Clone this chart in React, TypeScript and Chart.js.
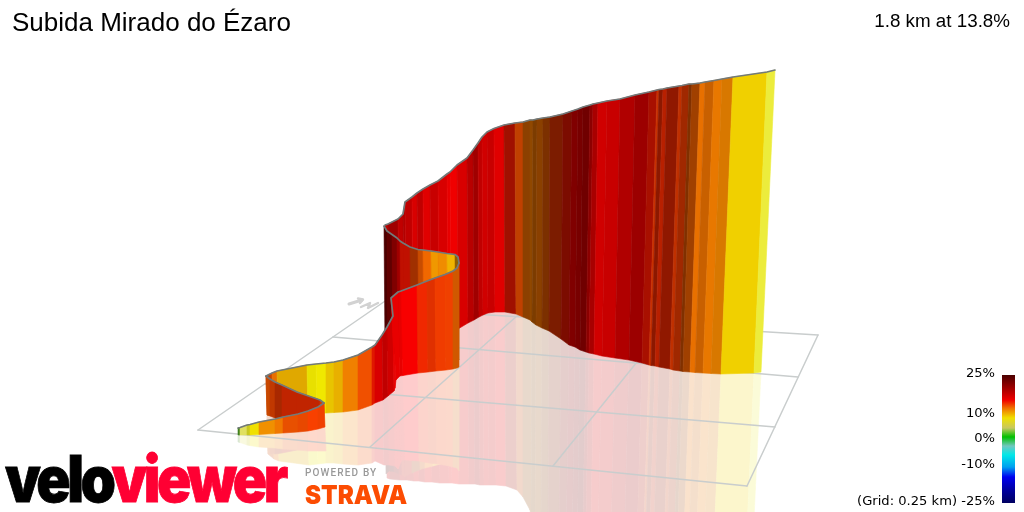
import React, { useEffect, useRef } from "react";
import { Chart, registerables } from "chart.js";

Chart.register(...registerables);

// Far wall (last part of the climb), read left to right
const farTopX = [385,388,398,403,405,412,417,423,430,438,447,450,457,467,473,478,482,487,494,504,515,523,530,533,537,543,550,563,572,578,583,590,593,598,607,620,635,649,657,659,663,667,679,682,689,692,700,705,714,722,733,767,775];
const farTopY = [225,224,219,214,202,197,193,189,185,181,174,172,165,158,150,143,137,132,128.5,125,123,122,120,120,119,118,117,114,111,109,107,105,104,103,101,99,95,92,90,89.5,89,88,86,85.5,84,84,83,82,80.5,79,77,72,70];
const farBaseX = [386,389,399,404,406,413,418,424,431,439,448,451,458,468,474,479,483,488,495,505,516,523,530,532,536,542,549,561,569,575,580,586,589,594,602,615,629,642,649,651,655,659,670,673,680,683,690,695,703,711,721,754,761];
const farBaseY = [350,349,346,345,344,342,341,339,337,335,332,331,329,323,320,317,315,313,312,312,314,317,320,322,325,328,331,339,345,347,350,352,353,354,356,358,360,363,365,365.5,366,367,369,370,371,371.5,372,372.5,373,373.5,374,373,372];
const farMirrorY = [478,479,480,480,480,481,481,482,482,483,483,483,484,484,484,485,485,485,485,486,490,497,510,517,524,528,532,545,560,565,570,574,576,580,585,590,600,610,620,622,624,626,630,632,634,636,640,644,648,652,660,664,665];
const farColours = ["#c00000","#a00000","#c00000","#b00000","#c00000","#d80000","#c00000","#e00000","#c80000","#d80000","#e80000","#f00000","#d80000","#b80000","#a00000","#c00000","#d00000","#c80000","#e00000","#a01000","#c04000","#8c4000","#904800","#7c3c00","#8a4000","#7c3000","#7c1c00","#7c0c00","#800000","#780000","#700000","#8c0000","#a80000","#d00000","#c80000","#b00000","#9c0000","#a81000","#c83000","#8c1800","#b82000","#901800","#c03000","#a02800","#803000","#a04000","#e87000","#c86000","#e87800","#d87800","#f0d000","#ecec3c"];

// Inner face behind the upper hairpin
const backTopX = [384,387,392,397,400,403,410,418,423,431,438,447,455,458,459];
const backTopY = [226,231,234.5,238,241,243,247,249.5,250,251,252,253.5,254.5,257,263];
const backBaseX = [385,388,393,398,401,404,411,419,424,432,439,448,456,458,459];
const backBaseY = [350,351,353,356,358,360,360,359.5,359,358.5,358,357,357,358,360];
const backColours = ["#4c0000","#600000","#800000","#a00000","#c01000","#c01000","#a03000","#c84c00","#f06800","#f09800","#f08c00","#f0b400","#906000","#906000"];

// Middle wall, between the two hairpins
const midTopX = [266,272,277,307,316,326,334,343,358,372,375,382,387,393,392,391,398,401,417,427,435,445,453,457,459];
const midTopY = [376,373,371,365,364,363,362,360,355,347,345,335,327,316,307,298,292,291,285,281,278,274.5,271,268,263];
const midBaseX = [267,273,278,308,317,326,334,343,358,372,375,383,388,394,395,396,400,403,418,428,436,446,453,457,459];
const midBaseY = [415,416,416,415,414,413,412.5,412,410,405,403,400,396,391,388,380,376,375.5,373,372,371,370,369,368,367];
const midColours = ["#c84400","#e87000","#e0a800","#e8e000","#f0e800","#e8c400","#e8b000","#f08000","#f05000","#e01800","#d80000","#c00000","#d00000","#e80000","#e80000","#e80000","#e80000","#f80000","#f02800","#e03000","#f03c00","#f04000","#d05800","#d05800"];

// Inner face behind the lower hairpin
const lowBackTopX = [266,270,275,282,297,320,324];
const lowBackTopY = [376,379,382,385,392,400,403];
const lowBackBaseX = [267,270,275,282,297,320,324];
const lowBackBaseY = [415,416,418,419,421,424,426];
const lowBackColours = ["#c84800","#c03800","#a82800","#c02400","#c02400","#d03c00"];

// First metres of the climb
const startTopX = [238,240,247,250,259,275,283,298,308,318,324];
const startTopY = [428,427.5,425,424.5,422,419,417,414,411,407,403];
const startBaseX = [238,240,247,250,259,275,283,298,308,318,325];
const startBaseY = [435,435,435,435,434.5,433.5,433,432,431,429,427];
const startColours = ["#408020","#e0e060","#c8c820","#f0e000","#f09000","#f07800","#e85000","#e84800","#f84000","#f04000"];

// Ground grid (0.25 km squares): [x0, y0, x1, y1]
const gridLines = [
  [198, 430, 420, 277],
  [370, 447, 518, 315],
  [553, 466, 637, 362],
  [747, 486, 818, 335],
  [198, 430, 747, 486],
  [265, 384, 775, 427],
  [333, 337, 798, 377],
  [440, 312, 818, 335],
];
const northArrow = [
  [[349, 304], [362, 300]],
  [[358, 298.5], [363, 299.5], [360, 303]],
  [[361, 307], [370, 303], [368, 308], [378, 303]],
];

// Colour scale
const legendBar = [[1002, 375], [1015, 375], [1015, 503], [1002, 503]];
const legendStops: [number, string][] = [
  [0, "#4a0000"], [0.14, "#c00000"], [0.195, "#f00000"], [0.258, "#f07000"],
  [0.336, "#f0e000"], [0.414, "#c8c860"], [0.484, "#00c000"], [0.555, "#70c8c0"],
  [0.625, "#00e8e8"], [0.719, "#00a0f0"], [0.797, "#0000f0"], [0.898, "#0000a0"], [1, "#000060"],
];
const legendLabels: [string, number][] = [["25%", 373], ["10%", 413], ["0%", 438], ["-10%", 464], ["(Grid: 0.25 km) -25%", 501]];

const pale = (hex: string) => {
  const n = parseInt(hex.slice(1), 16);
  const mix = (c: number) => Math.round(c * 0.2 + 255 * 0.8);
  return `rgb(${mix((n >> 16) & 255)},${mix((n >> 8) & 255)},${mix(n & 255)})`;
};

type Wall = { topX: number[]; topY: number[]; baseX: number[]; baseY: number[]; colours: string[]; mirrorY?: number[] };
const far: Wall = { topX: farTopX, topY: farTopY, baseX: farBaseX, baseY: farBaseY, colours: farColours, mirrorY: farMirrorY };
const back: Wall = { topX: backTopX, topY: backTopY, baseX: backBaseX, baseY: backBaseY, colours: backColours };
const mid: Wall = { topX: midTopX, topY: midTopY, baseX: midBaseX, baseY: midBaseY, colours: midColours };
const lowBack: Wall = { topX: lowBackTopX, topY: lowBackTopY, baseX: lowBackBaseX, baseY: lowBackBaseY, colours: lowBackColours };
const start: Wall = { topX: startTopX, topY: startTopY, baseX: startBaseX, baseY: startBaseY, colours: startColours };
const walls = [far, back, mid, lowBack, start];

const polygon = (data: { x: number; y: number }[], fillColour: string, extra: object = {}) => ({
  data, polygon: true, fillColour, borderWidth: 0, showLine: false, pointRadius: 0, ...extra,
});
const path = (data: { x: number; y: number }[], colour: string, width: number) => ({
  data, showLine: true, borderColor: colour, borderWidth: width, pointRadius: 0, tension: 0,
  borderCapStyle: "round", borderJoinStyle: "round", fill: false,
});

const reflectionSets = (w: Wall) =>
  w.colours.map((c, i) => {
    const mirror = (j: number) => ({
      x: 2 * w.baseX[j] - w.topX[j],
      y: w.mirrorY ? w.mirrorY[j] : 2 * w.baseY[j] - w.topY[j],
    });
    return polygon(
      [{ x: w.baseX[i], y: w.baseY[i] }, { x: w.baseX[i + 1], y: w.baseY[i + 1] }, mirror(i + 1), mirror(i)],
      pale(c),
    );
  });

const wallSets = (w: Wall) => [
  ...w.colours.map((c, i) =>
    polygon(
      [{ x: w.topX[i], y: w.topY[i] }, { x: w.topX[i + 1], y: w.topY[i + 1] }, { x: w.baseX[i + 1], y: w.baseY[i + 1] }, { x: w.baseX[i], y: w.baseY[i] }],
      c,
    ),
  ),
  path(w.topX.map((x, i) => ({ x, y: w.topY[i] })), "#727a7a", 1.7),
];

const ribbonFill = {
  id: "ribbonFill",
  beforeDatasetDraw(chart: any, args: any) {
    const ds = chart.data.datasets[args.index];
    if (!ds.polygon) return;
    const pts = args.meta.data;
    const ctx = chart.ctx;
    ctx.save();
    ctx.beginPath();
    pts.forEach((p: any, i: number) => (i ? ctx.lineTo(p.x, p.y) : ctx.moveTo(p.x, p.y)));
    ctx.closePath();
    let style: any = ds.fillColour;
    if (ds.gradientStops) {
      style = ctx.createLinearGradient(0, pts[0].y, 0, pts[2].y);
      ds.gradientStops.forEach(([f, c]: [number, string]) => style.addColorStop(f, c));
    } else {
      ctx.strokeStyle = style;
      ctx.lineWidth = 0.6;
      ctx.stroke();
    }
    ctx.fillStyle = style;
    ctx.fill();
    ctx.restore();
  },
};

const abs = (s: React.CSSProperties): React.CSSProperties => ({ position: "absolute", whiteSpace: "nowrap", lineHeight: 1, ...s });

export default function App() {
  const ref = useRef<HTMLCanvasElement>(null);
  useEffect(() => {
    const datasets: any[] = [
      ...walls.flatMap(reflectionSets),
      ...gridLines.map(([x0, y0, x1, y1]) => path([{ x: x0, y: y0 }, { x: x1, y: y1 }], "#c9cdcd", 1.5)),
      ...northArrow.map((a, i) => path(a.map(([x, y]) => ({ x, y })), "#d2d2d2", i === 0 ? 3 : 2.4)),
      ...walls.flatMap(wallSets),
      polygon(legendBar.map(([x, y]) => ({ x, y })), "#000", { gradientStops: legendStops }),
    ];
    datasets.forEach((d, i) => (d.order = datasets.length - i));
    const chart = new Chart(ref.current!, {
      type: "scatter",
      data: { datasets },
      options: {
        animation: false,
        responsive: false,
        events: [],
        clip: false,
        layout: { padding: 0 },
        plugins: { legend: { display: false }, tooltip: { enabled: false } },
        scales: {
          x: { type: "linear", min: 0, max: 1024, display: false },
          y: { type: "linear", min: 0, max: 512, reverse: true, display: false },
        },
      } as any,
      plugins: [ribbonFill],
    });
    return () => chart.destroy();
  }, []);
  return (
    <div style={{ position: "fixed", left: 0, top: 0, width: 1024, height: 512, overflow: "hidden", background: "#fff" }}>
      <canvas ref={ref} width={1024} height={512} style={{ display: "block" }} />
      <div style={abs({ left: 12, top: 9, fontFamily: "'Liberation Sans'", fontSize: 26, color: "#000" })}>Subida Mirado do Ézaro</div>
      <div style={abs({ right: 14, top: 12, fontFamily: "'Liberation Sans'", fontSize: 18.8, color: "#000" })}>1.8 km at 13.8%</div>
      {legendLabels.map(([t, y]) => (
        <div key={t} style={abs({ right: 29, top: y - 7.5, fontFamily: "'DejaVu Sans'", fontSize: 13.1, color: "#000" })}>{t}</div>
      ))}
      <div style={abs({ left: 5, top: 447, fontFamily: "Inter", fontWeight: 900, fontSize: 64, letterSpacing: -4, transform: "scaleX(0.886)", transformOrigin: "left top", WebkitTextStroke: "0.8px currentColor" })}>
        <span style={{ color: "#000" }}>velo</span><span style={{ color: "#ff0033" }}>viewer</span>
      </div>
      <div style={abs({ left: 305, top: 468, fontFamily: "Roboto", fontWeight: 500, fontSize: 10, letterSpacing: 1.15, color: "#999" })}>POWERED BY</div>
      <div style={abs({ left: 305, top: 482, fontFamily: "Inter", fontWeight: 900, fontSize: 26, letterSpacing: 0, color: "#fc4c02", transform: "scaleX(0.93)", transformOrigin: "left top" })}>STRAVA</div>
    </div>
  );
}
